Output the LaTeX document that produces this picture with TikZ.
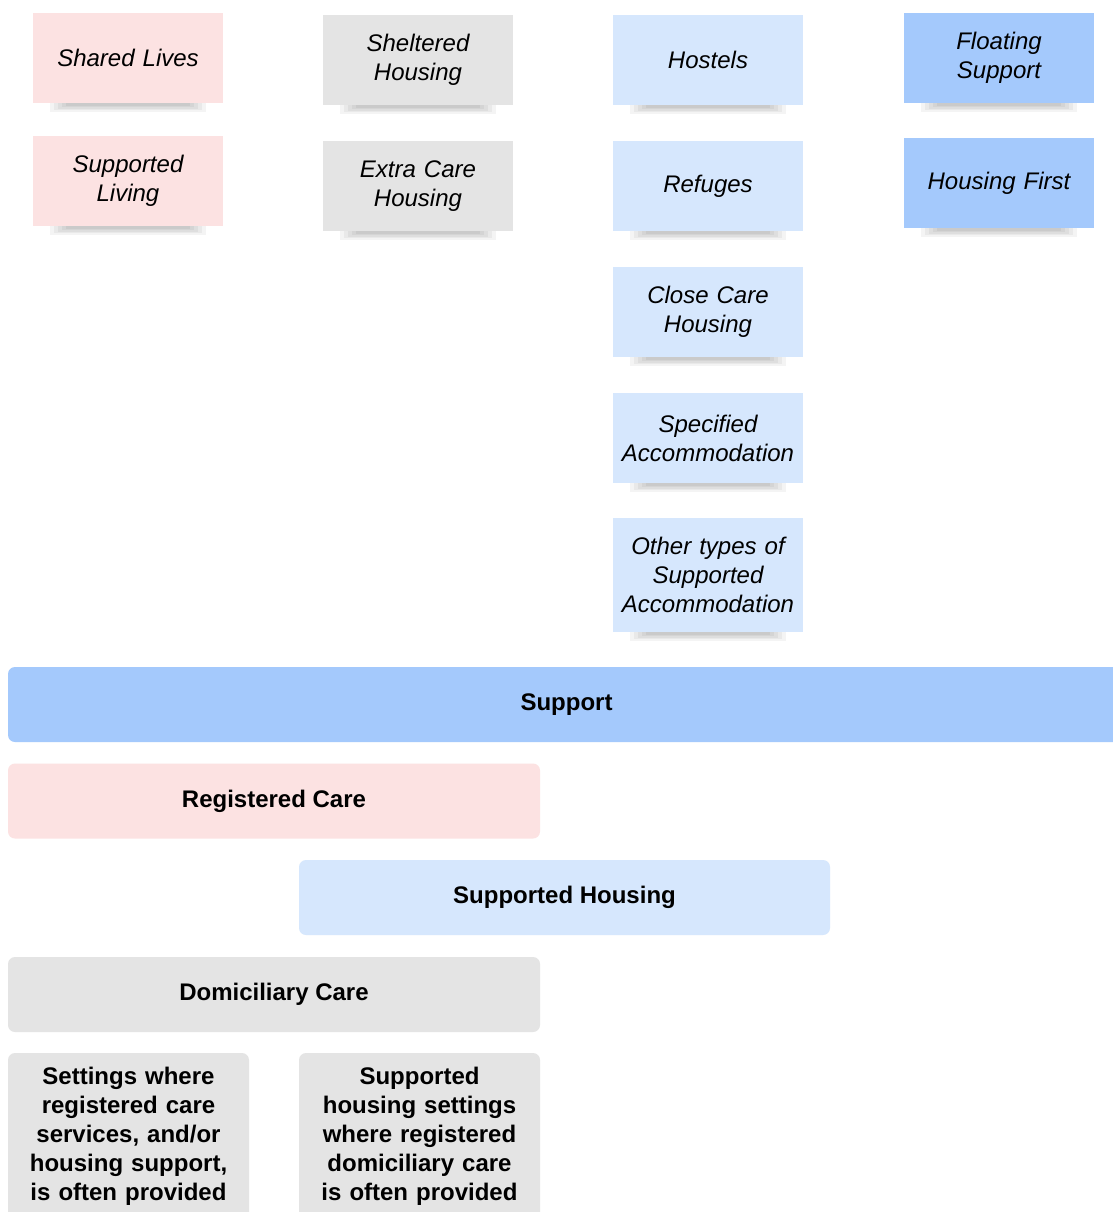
\documentclass[tikz,border=0pt]{standalone}
\usepackage{fontspec}
\setmainfont{Liberation Sans}
\definecolor{pinkfill}{RGB}{252,226,226}
\definecolor{greyfill}{RGB}{228,228,228}
\definecolor{paleblue}{RGB}{214,231,253}
\definecolor{midblue}{RGB}{164,201,252}
\begin{document}
\begin{tikzpicture}[x=1pt, y=-1pt,
  note/.style={rectangle, minimum width=190pt, minimum height=90pt, text width=186pt, inner sep=2pt,
    align=center, font=\fontsize{24}{29}\selectfont\itshape},
  bar/.style={rectangle, rounded corners=7pt, minimum height=75pt, inner sep=0pt,
    align=center, font=\fontsize{24}{29}\selectfont\bfseries},
  infobox/.style={rectangle, rounded corners=7pt, fill=greyfill, minimum width=241pt, minimum height=166pt,
    text width=236pt, inner sep=0pt, align=center, font=\fontsize{24}{29}\selectfont\bfseries}]
\useasboundingbox (0,0) rectangle (1113,1212);
\clip (0,0) rectangle (1113,1212);
\fill[white] (0,0) rectangle (1113,1212);

% soft shadows under the notes (drawn first)
\foreach \cx/\by in {128/103,128/226,418/105,418/231,708/105,708/231,708/357,708/483,708/632,999/103,999/228}
  \foreach \k in {0,...,4}
    \fill[black, opacity=0.045] (\cx-78+4*\k,\by) rectangle (\cx+78-4*\k,\by+9-1.6*\k);

% sticky notes
\node[note, fill=pinkfill] (sl) at (128,58) {Shared Lives};
\node[note, fill=pinkfill] (sv) at (128,181) {Supported\\Living};
\node[note, fill=greyfill] (sh) at (418,60) {Sheltered\\Housing};
\node[note, fill=greyfill] (ec) at (418,186) {Extra Care\\Housing};
\node[note, fill=paleblue] (ho) at (708,60) {Hostels};
\node[note, fill=paleblue] (re) at (708,186) {Refuges};
\node[note, fill=paleblue] (cc) at (708,312) {Close Care\\Housing};
\node[note, fill=paleblue] (sa) at (708,438) {Specified\\Accommodation};
\node[note, fill=paleblue, minimum height=114pt] (ot) at (708,575) {Other types of\\Supported\\Accommodation};
\node[note, fill=midblue] (fs) at (999,58) {Floating\\Support};
\node[note, fill=midblue] (hf) at (999,183) {Housing First};

% bars
\node[bar, fill=midblue, minimum width=1117pt] (sup) at (566.5,704.5) {Support};
\node[bar, fill=pinkfill, minimum width=532pt] (rc) at (274,801) {Registered Care};
\node[bar, fill=paleblue, minimum width=531pt] (shb) at (564.5,897.5) {Supported Housing};
\node[bar, fill=greyfill, minimum width=532pt] (dc) at (274,994.5) {Domiciliary Care};

% bottom boxes
\node[infobox] (st) at (128.5,1136) {Settings where\\registered care\\services, and/or\\housing support,\\is often provided};
\node[infobox] (sd) at (419.5,1136) {Supported\\housing settings\\where registered\\domiciliary care\\is often provided};
\end{tikzpicture}
\end{document}
